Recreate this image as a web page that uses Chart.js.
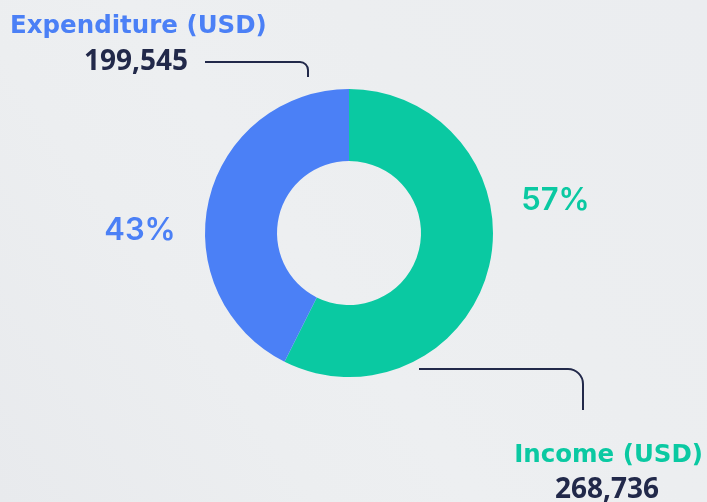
<!DOCTYPE html>
<html>
<head>
<meta charset="utf-8">
<script src="https://cdn.jsdelivr.net/npm/chart.js@4/dist/chart.umd.min.js"></script>
<style>
  html, body { margin: 0; padding: 0; }
  body {
    width: 707px; height: 502px; overflow: hidden;
    background: linear-gradient(55deg, #e8eaed 0%, #eceef0 30%, #edeff1 45%, #eceef0 65%, #ebedf0 100%);
  }
  #wrap { position: relative; width: 707px; height: 502px; }
</style>
</head>
<body>
<div id="wrap"><canvas id="budgetChart"></canvas></div>
<script>
var categories = ["Income (USD)", "Expenditure (USD)"];
var amounts = [268736, 199545];
var sliceColors = ["#0ac9a2", "#4b80f6"];

var inkColor = "#22294a";
var titleFont = "'DejaVu Sans', sans-serif";
var numberFont = "'Open Sans', sans-serif";
var pctFont = "Inter, sans-serif";

function fmt(n) {
    return n.toLocaleString("en-US");
}

// percent labels + callouts, placed around the arcs
var calloutPlugin = {
    id: "callouts",
    afterDraw: function(chart) {
        var ctx = chart.ctx;
        var arcs = chart.getDatasetMeta(0).data;
        var cx = arcs[0].x, cy = arcs[0].y, r = arcs[0].outerRadius;
        var total = amounts[0] + amounts[1];
        var pct = amounts.map(function(v) { return Math.round(v / total * 100) + "%"; });

        ctx.save();
        ctx.textBaseline = "middle";
        ctx.textAlign = "center";
        ctx.font = "600 31px " + pctFont;
        var pr = r + 65;
        var angIncome = -9 * Math.PI / 180, angExp = 180.5 * Math.PI / 180;
        ctx.fillStyle = sliceColors[0];
        ctx.fillText(pct[0], cx + pr * Math.cos(angIncome), cy + pr * Math.sin(angIncome));
        ctx.fillStyle = sliceColors[1];
        ctx.fillText(pct[1], cx + pr * Math.cos(angExp), cy + pr * Math.sin(angExp));

        // leader lines
        ctx.strokeStyle = inkColor;
        ctx.lineWidth = 2;
        ctx.lineCap = "butt";
        // expenditure: above the top of the ring
        var y1 = cy - r - 27, x1end = cx - 41, k1 = 8;
        ctx.beginPath();
        ctx.moveTo(cx - r, y1);
        ctx.lineTo(x1end - k1, y1);
        ctx.arcTo(x1end, y1, x1end, y1 + k1, k1);
        ctx.lineTo(x1end, cy - r - 12);
        ctx.stroke();
        // income: below the bottom of the ring
        var y2 = cy + r - 8, x2end = cx + 234, k2 = 15;
        ctx.beginPath();
        ctx.moveTo(cx + 70, y2);
        ctx.lineTo(x2end - k2, y2);
        ctx.arcTo(x2end, y2, x2end, y2 + k2, k2);
        ctx.lineTo(x2end, cy + r + 33);
        ctx.stroke();

        // titles and values
        ctx.textBaseline = "alphabetic";
        ctx.font = "bold 24.5px " + titleFont;
        ctx.fillStyle = sliceColors[1];
        ctx.textAlign = "left";
        ctx.fillText(categories[1], 10, 33);
        ctx.fillStyle = sliceColors[0];
        ctx.textAlign = "right";
        ctx.fillText(categories[0], 703, 462);

        ctx.font = "bold 28px " + numberFont;
        ctx.fillStyle = inkColor;
        ctx.textAlign = "right";
        ctx.fillText(fmt(amounts[1]), 188, 70);
        ctx.textAlign = "center";
        ctx.fillText(fmt(amounts[0]), 607, 498);
        ctx.restore();
    }
};

var budgetChart = new Chart(document.getElementById("budgetChart"), {
    type: "doughnut",
    data: {
        labels: categories,
        datasets: [
            {
                data: amounts,
                backgroundColor: sliceColors,
                borderWidth: 0,
                hoverOffset: 0
            }
        ]
    },
    options: {
        responsive: true,
        maintainAspectRatio: false,
        animation: false,
        cutout: "50%",
        layout: {
            padding: { left: 205, right: 214, top: 89, bottom: 125 }
        },
        plugins: {
            legend: { display: false },
            tooltip: { enabled: false }
        }
    },
    plugins: [calloutPlugin]
});
</script>
</body>
</html>
